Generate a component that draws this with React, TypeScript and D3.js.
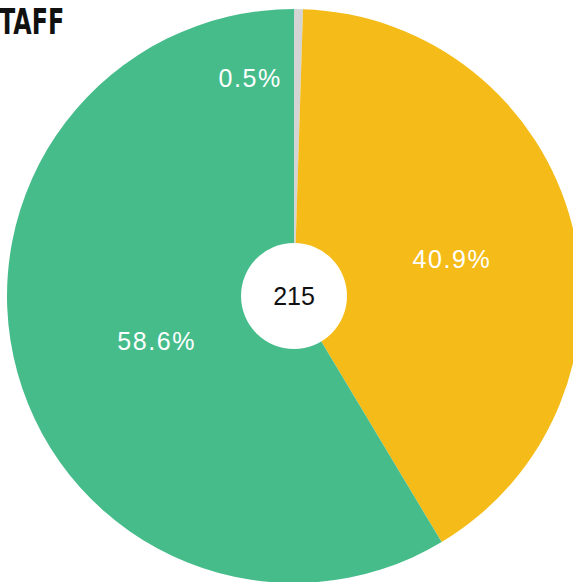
import React, { useEffect, useRef } from 'react';
import * as d3 from 'd3';

const labels = ['Other', 'Yellow', 'Green'];
const values = [0.5, 40.9, 58.6];
const colors = ['#d4d4d4', '#f5bc19', '#46bc8b'];
const total = 215;
const title = 'TAFF';

// nudges for the percentage labels, relative to the slice centroid
const labelNudge = [[-46, -75], [19, -1], [1, 7]];

export default function App() {
  const svgRef = useRef<SVGSVGElement>(null);
  const width = 573;
  const height = 582;

  useEffect(() => {
    const svg = d3.select(svgRef.current);
    svg.selectAll('*').remove();

    const cx = 294;
    const cy = 296;
    const radius = 287;
    const hole = 53;

    const pie = d3.pie<number>().sort(null).value(d => d);
    const arcs = pie(values);

    const arc = d3.arc<d3.PieArcDatum<number>>().innerRadius(0).outerRadius(radius);

    const g = svg.append('g').attr('transform', `translate(${cx},${cy})`);

    g.selectAll('path.slice')
      .data(arcs)
      .enter()
      .append('path')
      .attr('class', 'slice')
      .attr('d', arc)
      .attr('fill', (_, i) => colors[i]);

    g.selectAll('text.pct')
      .data(arcs)
      .enter()
      .append('text')
      .attr('class', 'pct')
      .attr('x', (d, i) => arc.centroid(d)[0] + labelNudge[i][0])
      .attr('y', (d, i) => arc.centroid(d)[1] + labelNudge[i][1])
      .attr('text-anchor', 'middle')
      .attr('dominant-baseline', 'central')
      .attr('font-family', 'Liberation Sans, Arial, sans-serif')
      .attr('font-size', '25px')
      .attr('letter-spacing', '1.6px')
      .attr('fill', '#fff')
      .text(d => d.data.toFixed(1) + '%');

    g.append('circle').attr('r', hole).attr('fill', '#fff');

    g.append('text')
      .attr('text-anchor', 'middle')
      .attr('dominant-baseline', 'central')
      .attr('font-family', 'Liberation Sans, Arial, sans-serif')
      .attr('font-size', '25px')
      .attr('fill', '#111')
      .text(total);

    // condensed heavy title, squeezed horizontally
    svg.append('text')
      .attr('transform', 'translate(-1,34) scale(0.66,1)')
      .attr('font-family', 'DejaVu Sans, sans-serif')
      .attr('font-weight', 'bold')
      .attr('font-size', '36px')
      .attr('fill', '#111')
      .text(title);
  }, []);

  return (
    <div style={{ position: 'absolute', left: 0, top: 0, width, height, overflow: 'hidden' }}>
      <svg ref={svgRef} width={width} height={height}></svg>
    </div>
  );
}
